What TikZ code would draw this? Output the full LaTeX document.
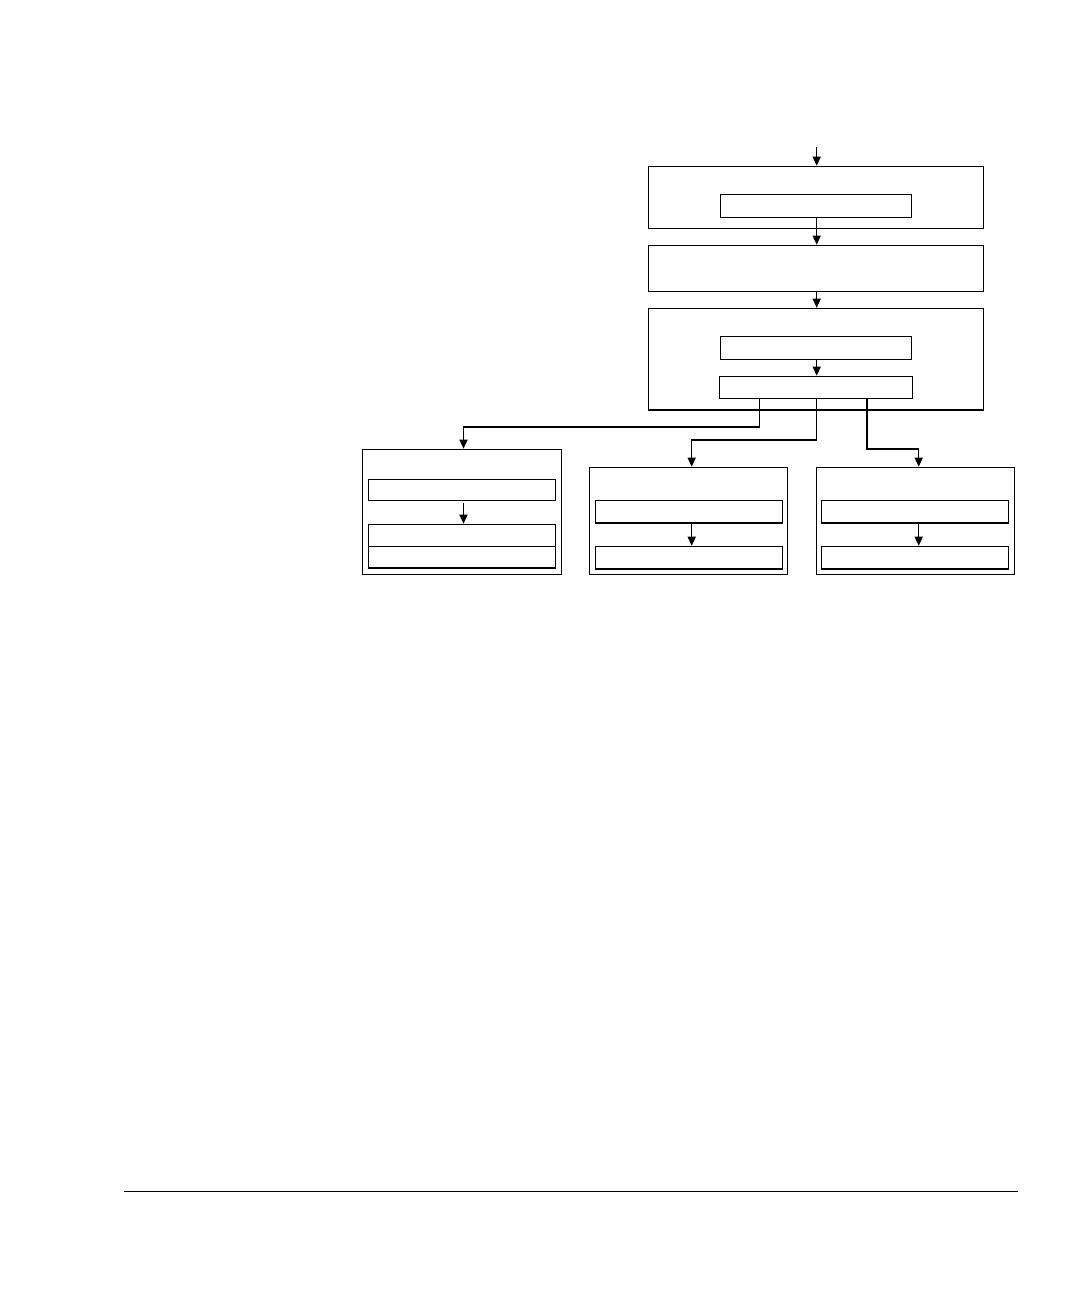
\documentclass[tikz,border=0pt]{standalone}
\usetikzlibrary{arrows.meta}
\begin{document}
\begin{tikzpicture}[x=0.5pt,y=-0.5pt,
  box/.style={draw,line width=0.6pt,inner sep=0pt,minimum width=#1},
  arr/.style={line width=0.6pt,-{Triangle[width=4.1pt,length=4.6pt]}},
  lnk/.style={line width=0.6pt}]
\useasboundingbox[fill=white] (0,0) rectangle (1080,1296);
% top column
\node[box=335pt*0.5,minimum height=31pt] (A) at (816,197.3) {};
\node[box=191.4pt*0.5,minimum height=11.5pt] (A1) at (816,205.8) {};
\node[box=335pt*0.5,minimum height=23pt] (B) at (816,268.3) {};
\node[box=335pt*0.5,minimum height=50.8pt] (C) at (816,359.2) {};
\node[box=191.4pt*0.5,minimum height=11.5pt] (C1) at (816,347.8) {};
\node[box=193.4pt*0.5,minimum height=11pt] (C2) at (816,387.3) {};
% left box
\node[box=199.4pt*0.5,minimum height=62.6pt] (L) at (462,511.9) {};
\node[box=187.4pt*0.5,minimum height=10.5pt] (L1) at (462,489.8) {};
\node[box=187.4pt*0.5,minimum height=11pt] (L2) at (462,535.3) {};
\node[box=187.4pt*0.5,minimum height=10.85pt] (L3) at (462,557.2) {};
% middle box
\node[box=198pt*0.5,minimum height=53.5pt] (M) at (688.3,520.8) {};
\node[box=187pt*0.5,minimum height=11.35pt] (M1) at (688.8,511.7) {};
\node[box=187pt*0.5,minimum height=11.35pt] (M2) at (688.8,557.7) {};
% right box
\node[box=197.6pt*0.5,minimum height=53.5pt] (R) at (915.5,520.8) {};
\node[box=187pt*0.5,minimum height=11.35pt] (R1) at (914.8,511.7) {};
\node[box=187pt*0.5,minimum height=11.35pt] (R2) at (914.8,557.7) {};
% helper coordinates
\coordinate (top) at (816.7,147);
\coordinate (xc) at (816.7,0);
\coordinate (xl) at (759.3,0);
\coordinate (xr) at (867,0);
\coordinate (xla) at (463.5,0);
\coordinate (xma) at (691.7,0);
\coordinate (xra) at (918.7,0);
\coordinate (yl) at (0,427);
\coordinate (ym) at (0,440);
\coordinate (yr) at (0,449);
\coordinate (rl) at (124,1191.3);
\coordinate (rr) at (1017.7,1191.3);
% arrows
\draw[arr] (top) -- (A.north -| xc);
\draw[arr] (A1.south -| xc) -- (B.north -| xc);
\draw[arr] (B.south -| xc) -- (C.north -| xc);
\draw[arr] (C1.south -| xc) -- (C2.north -| xc);
\draw[arr] (C2.south -| xl) -- (xl |- yl) -| (L.north -| xla);
\draw[arr] (C2.south -| xc) -- (xc |- ym) -| (M.north -| xma);
\draw[arr] (C2.south -| xr) -- (xr |- yr) -| (R.north -| xra);
\draw[arr] ([yshift=-1pt]L1.south -| xla) -- (L2.north -| xla);
\draw[arr] (M1.south -| xma) -- (M2.north -| xma);
\draw[arr] (R1.south -| xra) -- (R2.north -| xra);
% bottom rule
\draw[line width=0.8pt] (rl) -- (rr);
\end{tikzpicture}
\end{document}
